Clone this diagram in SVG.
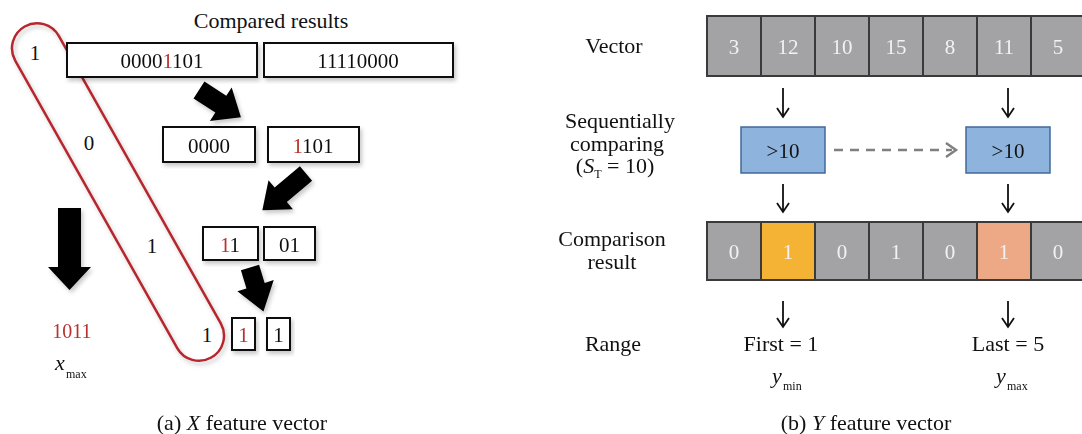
<svg xmlns="http://www.w3.org/2000/svg" width="1082" height="434" viewBox="0 0 1082 434">
  <style>
    text { font-family: "Liberation Serif", "Times New Roman", serif; fill: #111; }
    .lbl { font-size: 22px; text-anchor: middle; }
    .num { font-size: 21px; text-anchor: middle; }
    .red { fill: #b8312f; }
    .sub { font-size: 12px; }
    .bit { fill: #fff; stroke: #111; stroke-width: 2; }
    .blk { fill: #000; }
    .cell { fill: #a3a3a5; stroke: #3a3a3a; stroke-width: 2; }
    .cell-o { fill: #f4b335; stroke: #3a3a3a; stroke-width: 2; }
    .cell-s { fill: #eda985; stroke: #3a3a3a; stroke-width: 2; }
    .ctext { font-size: 21px; text-anchor: middle; fill: #f2f2f2; }
    .cmp { fill: #8eb4dd; stroke: #41689c; stroke-width: 1.5; }
    .down { fill: none; stroke: #111; stroke-width: 1.8; }
  </style>
  <defs>
    <filter id="shadow" x="-20%" y="-20%" width="140%" height="140%">
      <feDropShadow dx="2" dy="3" stdDeviation="2" flood-color="#000" flood-opacity="0.22"/>
    </filter>
  </defs>

  <!-- (a) X feature vector -->
  <text class="lbl" x="271" y="28">Compared results</text>

  <g id="ring" filter="url(#shadow)">
    <rect x="-190" y="-25" width="380" height="50" rx="25" fill="none" stroke="#b5272d" stroke-width="2.5" transform="translate(118,192) rotate(60.6)"/>
  </g>

  <g id="bits-left">
    <text x="35" y="60" class="num">1</text>
    <text x="89" y="150" class="num">0</text>
    <text x="152" y="253" class="num">1</text>
    <text x="207" y="342" class="num">1</text>
  </g>

  <g id="box-a" filter="url(#shadow)">
    <rect class="bit" x="67" y="43" width="190" height="34"/>
    <text class="num" x="162" y="68">0000<tspan class="red">1</tspan>101</text>
  </g>
  <g id="box-b" filter="url(#shadow)">
    <rect class="bit" x="264" y="43" width="189" height="34"/>
    <text class="num" x="358" y="68">11110000</text>
  </g>
  <g id="box-c" filter="url(#shadow)">
    <rect class="bit" x="163" y="127" width="92" height="35"/>
    <text class="num" x="209" y="153">0000</text>
  </g>
  <g id="box-d" filter="url(#shadow)">
    <rect class="bit" x="268" y="127" width="91" height="35"/>
    <text class="num" x="313" y="153"><tspan class="red">1</tspan>101</text>
  </g>
  <g id="box-e" filter="url(#shadow)">
    <rect class="bit" x="203" y="227" width="55" height="33"/>
    <text class="num" x="230" y="252"><tspan class="red">1</tspan>1</text>
  </g>
  <g id="box-f" filter="url(#shadow)">
    <rect class="bit" x="264" y="227" width="51" height="33"/>
    <text class="num" x="289.5" y="252">01</text>
  </g>
  <g id="box-g" filter="url(#shadow)">
    <rect class="bit" x="232" y="318" width="23" height="32"/>
    <text class="num red" x="243.5" y="342">1</text>
  </g>
  <g id="box-h" filter="url(#shadow)">
    <rect class="bit" x="267" y="318" width="23" height="32"/>
    <text class="num" x="278.5" y="342">1</text>
  </g>

  <!-- block arrows between the split levels -->
  <g id="split-arrows" filter="url(#shadow)">
    <polygon class="blk" points="0,-10 26,-10 26,-20 50,0 26,20 26,10 0,10" transform="translate(199,90) rotate(33)"/>
    <polygon class="blk" points="0,-9.5 33,-9.5 33,-19 57,0 33,19 33,9.5 0,9.5" transform="translate(306,173.5) rotate(140)"/>
    <polygon class="blk" points="0,-9.5 19,-9.5 19,-19 46,0 19,19 19,9.5 0,9.5" transform="translate(250,267.5) rotate(73)"/>
    <polygon class="blk" points="58,208 81,208 81,267 91,267 69.5,290 48,267 58,267"/>
  </g>

  <g id="x-result">
    <text class="red" x="72" y="338" font-size="20" text-anchor="middle">1011</text>
    <text x="55" y="370" font-size="22" font-style="italic">x</text>
    <text class="sub" x="66" y="378">max</text>
  </g>

  <text class="lbl" x="242" y="430">(a) <tspan font-style="italic">X</tspan> feature vector</text>

  <!-- (b) Y feature vector -->
  <g id="row-labels" class="lbl">
    <text x="614" y="53">Vector</text>
    <text x="620" y="128">Sequentially</text>
    <text x="617" y="150.5">comparing</text>
    <text x="615" y="173">(<tspan font-style="italic">S</tspan><tspan class="sub" dy="5">T</tspan><tspan dy="-5"> = 10)</tspan></text>
    <text x="612" y="245.5">Comparison</text>
    <text x="612" y="268.5">result</text>
    <text x="613" y="351">Range</text>
  </g>

  <g id="vector">
    <rect class="cell" x="707" y="16" width="54" height="60"/>
    <rect class="cell" x="761" y="16" width="54" height="60"/>
    <rect class="cell" x="815" y="16" width="54" height="60"/>
    <rect class="cell" x="869" y="16" width="54" height="60"/>
    <rect class="cell" x="923" y="16" width="54" height="60"/>
    <rect class="cell" x="977" y="16" width="54" height="60"/>
    <rect class="cell" x="1031" y="16" width="54" height="60"/>
    <text class="ctext" x="734" y="54">3</text>
    <text class="ctext" x="788" y="54">12</text>
    <text class="ctext" x="842" y="54">10</text>
    <text class="ctext" x="896" y="54">15</text>
    <text class="ctext" x="950" y="54">8</text>
    <text class="ctext" x="1004" y="54">11</text>
    <text class="ctext" x="1058" y="54">5</text>
  </g>

  <g id="compare-1">
    <rect class="cmp" x="741" y="127" width="84" height="46"/>
    <text class="num" x="783" y="158">&gt;10</text>
  </g>
  <g id="compare-2">
    <rect class="cmp" x="966" y="127" width="84" height="46"/>
    <text class="num" x="1008" y="158">&gt;10</text>
  </g>

  <g id="result">
    <rect class="cell" x="707" y="222" width="54" height="58"/>
    <rect class="cell-o" x="761" y="222" width="54" height="58"/>
    <rect class="cell" x="815" y="222" width="54" height="58"/>
    <rect class="cell" x="869" y="222" width="54" height="58"/>
    <rect class="cell" x="923" y="222" width="54" height="58"/>
    <rect class="cell-s" x="977" y="222" width="54" height="58"/>
    <rect class="cell" x="1031" y="222" width="54" height="58"/>
    <text class="ctext" x="734" y="259">0</text>
    <text class="ctext" x="788" y="259">1</text>
    <text class="ctext" x="842" y="259">0</text>
    <text class="ctext" x="896" y="259">1</text>
    <text class="ctext" x="950" y="259">0</text>
    <text class="ctext" x="1004" y="259">1</text>
    <text class="ctext" x="1058" y="259">0</text>
  </g>

  <g id="connectors">
    <path class="down" d="M783,88 V117 M777,108 L783,117 L789,108"/>
    <path class="down" d="M1008,88 V117 M1002,108 L1008,117 L1014,108"/>
    <path class="down" d="M783,184 V212 M777,203 L783,212 L789,203"/>
    <path class="down" d="M1008,184 V212 M1002,203 L1008,212 L1014,203"/>
    <path class="down" d="M783,301 V327 M777,318 L783,327 L789,318"/>
    <path class="down" d="M1008,301 V327 M1002,318 L1008,327 L1014,318"/>
    <line x1="834" y1="150" x2="952" y2="150" stroke="#808080" stroke-width="2.5" stroke-dasharray="9 7"/>
    <path d="M946,143 L956,150 L946,157" fill="none" stroke="#808080" stroke-width="2.5"/>
  </g>

  <g id="range">
    <text class="lbl" x="781" y="351">First = 1</text>
    <text class="lbl" x="1008" y="351">Last = 5</text>
    <text x="772" y="383" font-size="22" font-style="italic">y</text>
    <text class="sub" x="783" y="390">min</text>
    <text x="996" y="383" font-size="22" font-style="italic">y</text>
    <text class="sub" x="1007" y="390">max</text>
  </g>

  <text class="lbl" x="866" y="430">(b) <tspan font-style="italic">Y</tspan> feature vector</text>
</svg>
